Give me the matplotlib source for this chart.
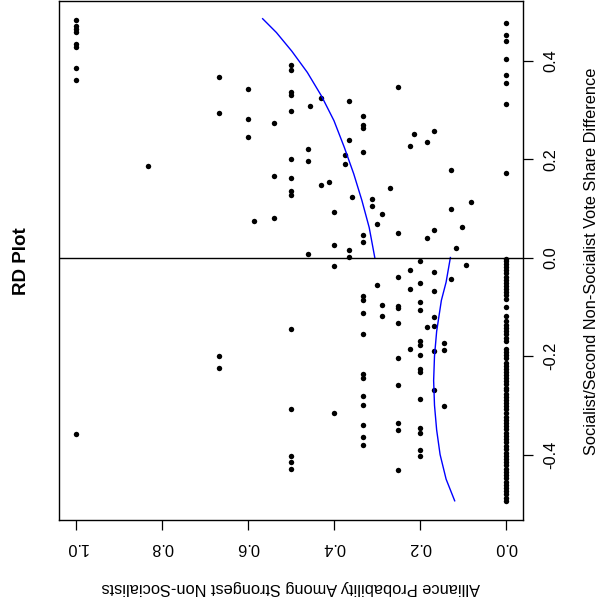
import numpy as np
import matplotlib
matplotlib.use("Agg")
from matplotlib import pyplot as plt

plt.rcParams['font.family'] = ['Liberation Sans', 'DejaVu Sans']

# --- data ----------------------------------------------------------------
# right of the cutoff: alliance level -> vote share differences
right_levels = [1.0, 0.833, 0.667, 0.600, 0.586, 0.540, 0.500, 0.461, 0.455,
                0.431, 0.412, 0.400, 0.374, 0.366, 0.359, 0.333, 0.312, 0.300,
                0.288, 0.269, 0.250, 0.223, 0.214, 0.183, 0.167, 0.127, 0.115,
                0.102, 0.081, 0.0]
right_shares = [
    [0.482, 0.471, 0.465, 0.458, 0.434, 0.428, 0.385, 0.361],
    [0.185],
    [0.366, 0.293],
    [0.342, 0.282, 0.245],
    [0.074],
    [0.274, 0.166, 0.080],
    [0.391, 0.380, 0.337, 0.331, 0.298, 0.201, 0.161, 0.136, 0.128],
    [0.220, 0.196, 0.007],
    [0.307],
    [0.323, 0.147],
    [0.153],
    [0.093, 0.026],
    [0.209, 0.190],
    [0.318, 0.239, 0.015, 0.001],
    [0.123],
    [0.288, 0.269, 0.263, 0.215, 0.045, 0.031],
    [0.118, 0.104],
    [0.069],
    [0.088],
    [0.142],
    [0.347, 0.050],
    [0.226],
    [0.250],
    [0.234, 0.039],
    [0.258, 0.055],
    [0.177, 0.099],
    [0.020],
    [0.063],
    [0.112],
    [0.477, 0.452, 0.439, 0.404, 0.371, 0.355, 0.312, 0.172],
]

# left of the cutoff
left_levels = [1.0, 0.667, 0.500, 0.400, 0.333, 0.300, 0.288, 0.250, 0.223,
               0.200, 0.183, 0.167, 0.145, 0.127, 0.092, 0.0]
left_shares = [
    [-0.359],
    [-0.199, -0.224],
    [-0.145, -0.307, -0.404, -0.415, -0.429],
    [-0.018, -0.316],
    [-0.078, -0.086, -0.113, -0.156, -0.237, -0.245, -0.281, -0.299, -0.340,
     -0.364, -0.380],
    [-0.056],
    [-0.097, -0.118],
    [-0.040, -0.099, -0.102, -0.132, -0.205, -0.258, -0.337, -0.351, -0.432],
    [-0.026, -0.064, -0.186],
    [-0.007, -0.051, -0.091, -0.107, -0.170, -0.177, -0.197, -0.226, -0.232,
     -0.288, -0.347, -0.357, -0.391, -0.403],
    [-0.142],
    [-0.029, -0.067, -0.121, -0.140, -0.190, -0.270],
    [-0.174, -0.188, -0.302],
    [-0.043],
    [-0.016],
    [-0.002, -0.008, -0.014, -0.020, -0.026, -0.032, -0.039, -0.045, -0.051,
     -0.057, -0.063, -0.069, -0.076, -0.084, -0.101, -0.119, -0.128, -0.138,
     -0.144, -0.150, -0.156, -0.163, -0.169, -0.185, -0.191, -0.198, -0.204,
     -0.214, -0.220, -0.226, -0.232, -0.239, -0.245, -0.251, -0.257, -0.264,
     -0.270, -0.277, -0.283, -0.289, -0.296, -0.302, -0.308, -0.316, -0.323,
     -0.330, -0.336, -0.342, -0.349, -0.356, -0.362, -0.369, -0.375, -0.382,
     -0.389, -0.396, -0.403, -0.409, -0.415, -0.422, -0.429, -0.435, -0.442,
     -0.448, -0.455, -0.462, -0.468, -0.475, -0.481, -0.488, -0.494],
]

# fitted curves (blue)
fit_left_share = [0.0, -0.05, -0.087, -0.15, -0.2, -0.25, -0.3, -0.35, -0.4,
                  -0.45, -0.494]
fit_left_prob = [0.129, 0.139, 0.150, 0.161, 0.166, 0.168, 0.166, 0.161,
                 0.153, 0.139, 0.119]
fit_right_share = [0.0, 0.061, 0.116, 0.170, 0.224, 0.278, 0.328, 0.376,
                   0.419, 0.457, 0.485]
fit_right_prob = [0.305, 0.318, 0.335, 0.354, 0.376, 0.400, 0.429, 0.462,
                  0.498, 0.534, 0.566]

prob_ticks = [0.0, 0.2, 0.4, 0.6, 0.8, 1.0]
share_ticks = [-0.4, -0.2, 0.0, 0.2, 0.4]

# flatten the groups
share = []
prob = []
for lev, vals in zip(right_levels + left_levels, right_shares + left_shares):
    share += vals
    prob += [lev] * len(vals)

# --- figure (the R plot turned a quarter turn) ----------------------------
fig = plt.figure(figsize=(6.06, 6.07), dpi=100)
ax = fig.add_axes([59 / 606, 87 / 607, 464 / 606, 519 / 607])

ax.plot(prob, share, 'o', ms=3.9, color='black', mew=0)
ax.plot(fit_left_prob, fit_left_share, color='#0000ff', lw=1)
ax.plot(fit_right_prob, fit_right_share, color='#0000ff', lw=1)
ax.axhline(0, color='black', lw=1)

ax.set_xlim(1.04, -0.04)
ax.set_ylim(-0.533, 0.521)

ax.set_xticks(prob_ticks)
ax.set_xticklabels(['%.1f' % t for t in prob_ticks], rotation=180)
ax.yaxis.tick_right()
ax.set_yticks(share_ticks)
ax.set_yticklabels(['%.1f' % t for t in share_ticks], rotation=90, va='center')
ax.tick_params(axis='both', direction='out', length=7.5, width=0.9,
               labelsize=11.8, pad=7)

for s in ax.spines.values():
    s.set_linewidth(1.0)

fig.text(592 / 606, 1 - 261 / 607,
         'Socialist/Second Non-Socialist Vote Share Difference',
         rotation=90, ha='center', va='center', fontsize=11.8)
fig.text(291 / 606, 1 - 588 / 607,
         'Alliance Probability Among Strongest Non-Socialists',
         rotation=180, ha='center', va='center', fontsize=11.8)
fig.text(22 / 606, 1 - 261 / 607, 'RD Plot', rotation=90,
         ha='center', va='center', fontsize=13.5, fontweight='bold')

fig.savefig('out.png', dpi=100)
